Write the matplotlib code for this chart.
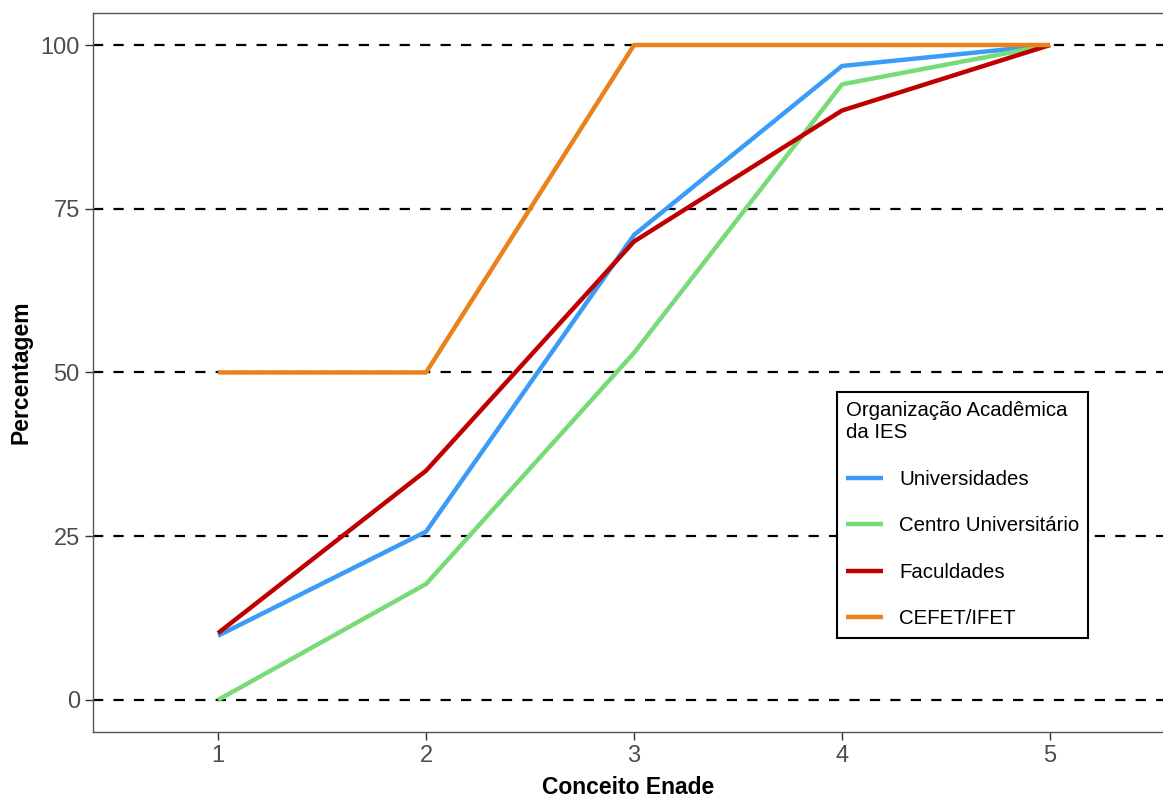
import matplotlib.pyplot as plt
import numpy as np

plt.rcParams['font.family'] = ['Liberation Sans', 'DejaVu Sans']

# data
conceito = [1, 2, 3, 4, 5]
universidades = [9.8, 25.7, 71.0, 96.8, 100]
centro_univ = [0, 17.7, 53.0, 94.0, 100]
faculdades = [10.2, 35.0, 70.0, 90.0, 100]
cefet = [50, 50, 100, 100, 100]

series = [
    ('Universidades', universidades, '#3A9CF7'),
    ('Centro Universitário', centro_univ, '#79DB77'),
    ('Faculdades', faculdades, '#C00000'),
    ('CEFET/IFET', cefet, '#E9821B'),
]
yticks = [0, 25, 50, 75, 100]

fig = plt.figure(figsize=(11.63, 7.98), dpi=100)
ax = fig.add_axes([0.080, 0.0827, 0.920, 0.9016])

for name, vals, col in series:
    ax.plot(conceito, vals, color=col, lw=3.2, label=name, zorder=3,
            solid_capstyle='butt')

#dashed horizontal guides
for yv in yticks:
    ax.axhline(yv, color='black', lw=1.6, ls=(0, (4.6, 4.6)), zorder=1)

ax.set_xlim(0.399, 5.543)
ax.set_ylim(-4.9, 104.96)
ax.set_xticks(conceito)
ax.set_yticks(yticks)

for side in ['left', 'bottom', 'top']:
    ax.spines[side].set_color('#555555')
    ax.spines[side].set_linewidth(1.0)
ax.spines['right'].set_visible(False)
ax.tick_params(colors='#333333', labelcolor='#4D4D4D', labelsize=17,
               length=6, width=1.0)

ax.set_xlabel('Conceito Enade', fontsize=16.5, fontweight='bold', labelpad=6)
ax.set_ylabel('Percentagem', fontsize=16.5, fontweight='bold', labelpad=6)

leg = ax.legend(title='Organização Acadêmica\nda IES', loc='upper left',
                bbox_to_anchor=(0.695, 0.4726), fontsize=14.7,
                title_fontsize=14.7, frameon=True, fancybox=False,
                edgecolor='black', framealpha=1, handlelength=1.8,
                handletextpad=0.8, labelspacing=1.35, borderpad=0.45,
                borderaxespad=0)
leg._legend_box.align = 'left'
leg.get_frame().set_linewidth(1.5)

fig.savefig('out.png', dpi=100)
